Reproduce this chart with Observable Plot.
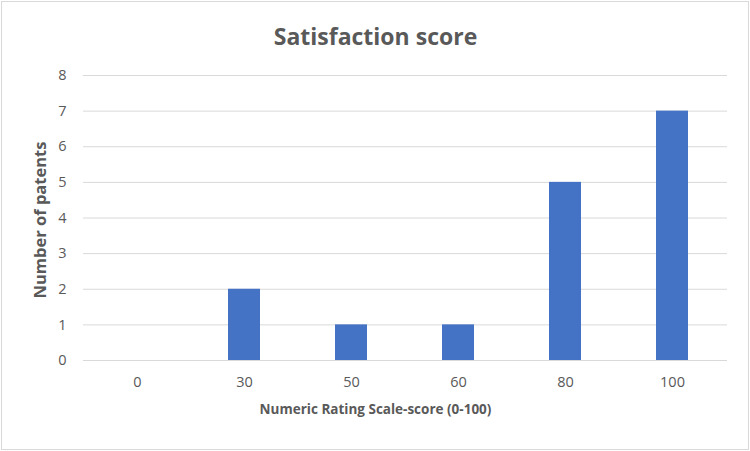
<!DOCTYPE html>
<html><head><meta charset="utf-8">
<script src="https://cdn.jsdelivr.net/npm/d3@7"></script>
<script src="https://cdn.jsdelivr.net/npm/@observablehq/plot@0.6"></script>
<style>
body{margin:0;background:#fff;}
#chart svg{display:block;outline:1px solid #d9d9d9;outline-offset:-2px;}
</style></head>
<body><div id="chart"></div>
<script>
const categories = ["0","30","50","60","80","100"];
const counts = [0,2,1,1,5,7];
const yTicks = [0,1,2,3,4,5,6,7,8];
const title = "Satisfaction score";
const xLabel = "Numeric Rating Scale-score (0-100)";
const yLabel = "Number of patents";

const data = categories.map((c,i)=>({score:c,count:counts[i]}));
const font = "'Open Sans', sans-serif";
const grey = "#595959";

const plot = Plot.plot({
  width:750, height:451,
  marginTop:75, marginBottom:91, marginLeft:83, marginRight:23,
  style:{fontFamily:font, fontSize:"14px", color:grey, background:"#fff"},
  x:{domain:categories, paddingInner:0.7, paddingOuter:0.35, label:null},
  y:{domain:[0,8], label:null},
  marks:[
    Plot.gridY(yTicks,{stroke:"#d9d9d9", strokeOpacity:1, strokeWidth:1}),
    Plot.barY(data,{x:"score", y:"count", fill:"#4472C4"}),
    Plot.axisY(yTicks,{tickSize:0, tickPadding:17, fontSize:14.5, fill:grey}),
    Plot.axisX({tickSize:0, tickPadding:16, fontSize:14.5, fill:grey}),
    Plot.text([title],{frameAnchor:"top", dx:-30, dy:-47, fontSize:23, fontWeight:"bold", fill:grey}),
    Plot.text([xLabel],{frameAnchor:"bottom", dx:-30, dy:53, fontSize:13.5, fontWeight:"bold", fill:grey}),
    Plot.text([yLabel],{frameAnchor:"left", textAnchor:"middle", dx:-43, dy:2, rotate:-90, fontSize:16.5, fontWeight:"bold", fill:grey})
  ]
});
document.getElementById("chart").append(plot);
</script></body></html>
